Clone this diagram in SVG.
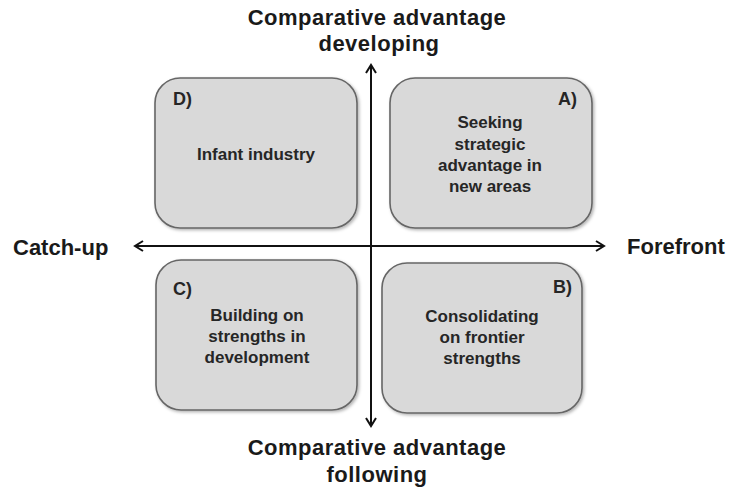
<svg xmlns="http://www.w3.org/2000/svg" width="729" height="494" viewBox="0 0 729 494">
  <style>
    .box { fill: #d9d9d9; stroke: #666666; stroke-width: 1.6; filter: url(#shadow); }
    .txt { font-family: "Liberation Sans", Arial, sans-serif; font-weight: bold; font-size: 17px; fill: #262626; text-anchor: middle; }
    .tag { font-family: "Liberation Sans", Arial, sans-serif; font-weight: bold; font-size: 18px; fill: #262626; }
    .axis-label { font-family: "Liberation Sans", Arial, sans-serif; font-weight: bold; font-size: 22px; fill: #1a1a1a; }
    .wide { letter-spacing: 0.5px; }
    .axis { stroke: #111111; stroke-width: 2; fill: none; }
  </style>
  <defs>
    <filter id="shadow" x="-10%" y="-10%" width="125%" height="125%">
      <feDropShadow dx="1.5" dy="1.5" stdDeviation="1.5" flood-color="#000000" flood-opacity="0.3"/>
    </filter>
    <marker id="head" viewBox="0 0 12 12" refX="10" refY="6" markerWidth="12" markerHeight="12" markerUnits="userSpaceOnUse" orient="auto-start-reverse">
      <path d="M 2 1 L 10 6 L 2 11" fill="none" stroke="#111111" stroke-width="2"/>
    </marker>
  </defs>

  <!-- axes -->
  <g id="connectors">
    <line class="axis" x1="135" y1="246" x2="604" y2="246" marker-start="url(#head)" marker-end="url(#head)"/>
    <line class="axis" x1="371" y1="65" x2="371" y2="426" marker-start="url(#head)" marker-end="url(#head)"/>
  </g>

  <!-- axis titles -->
  <g id="label-top">
    <text class="axis-label wide" x="377" y="25" text-anchor="middle">Comparative advantage</text>
    <text class="axis-label wide" x="379" y="51" text-anchor="middle">developing</text>
  </g>
  <g id="label-bottom">
    <text class="axis-label wide" x="377" y="455" text-anchor="middle">Comparative advantage</text>
    <text class="axis-label wide" x="377" y="482" text-anchor="middle">following</text>
  </g>
  <g id="label-left">
    <text class="axis-label" x="13" y="255">Catch-up</text>
  </g>
  <g id="label-right">
    <text class="axis-label" x="627" y="254">Forefront</text>
  </g>

  <!-- quadrant D -->
  <g id="quadrant-d">
    <rect class="box" x="155" y="78" width="202" height="150" rx="25" ry="25"/>
    <text class="tag" x="173" y="105">D)</text>
    <text class="txt" x="256" y="160">Infant industry</text>
  </g>

  <!-- quadrant A -->
  <g id="quadrant-a">
    <rect class="box" x="390" y="78" width="202" height="150" rx="25" ry="25"/>
    <text class="tag" x="577" y="105" text-anchor="end">A)</text>
    <text class="txt" x="490" y="128">Seeking</text>
    <text class="txt" x="490" y="150">strategic</text>
    <text class="txt" x="490" y="171">advantage in</text>
    <text class="txt" x="490" y="192">new areas</text>
  </g>

  <!-- quadrant C -->
  <g id="quadrant-c">
    <rect class="box" x="156" y="260" width="201" height="150" rx="25" ry="25"/>
    <text class="tag" x="173" y="295">C)</text>
    <text class="txt" x="257" y="321">Building on</text>
    <text class="txt" x="257" y="342">strengths in</text>
    <text class="txt" x="257" y="363">development</text>
  </g>

  <!-- quadrant B -->
  <g id="quadrant-b">
    <rect class="box" x="382" y="263" width="200" height="150" rx="25" ry="25"/>
    <text class="tag" x="572" y="293" text-anchor="end">B)</text>
    <text class="txt" x="482" y="322">Consolidating</text>
    <text class="txt" x="482" y="343">on frontier</text>
    <text class="txt" x="482" y="364">strengths</text>
  </g>
</svg>
